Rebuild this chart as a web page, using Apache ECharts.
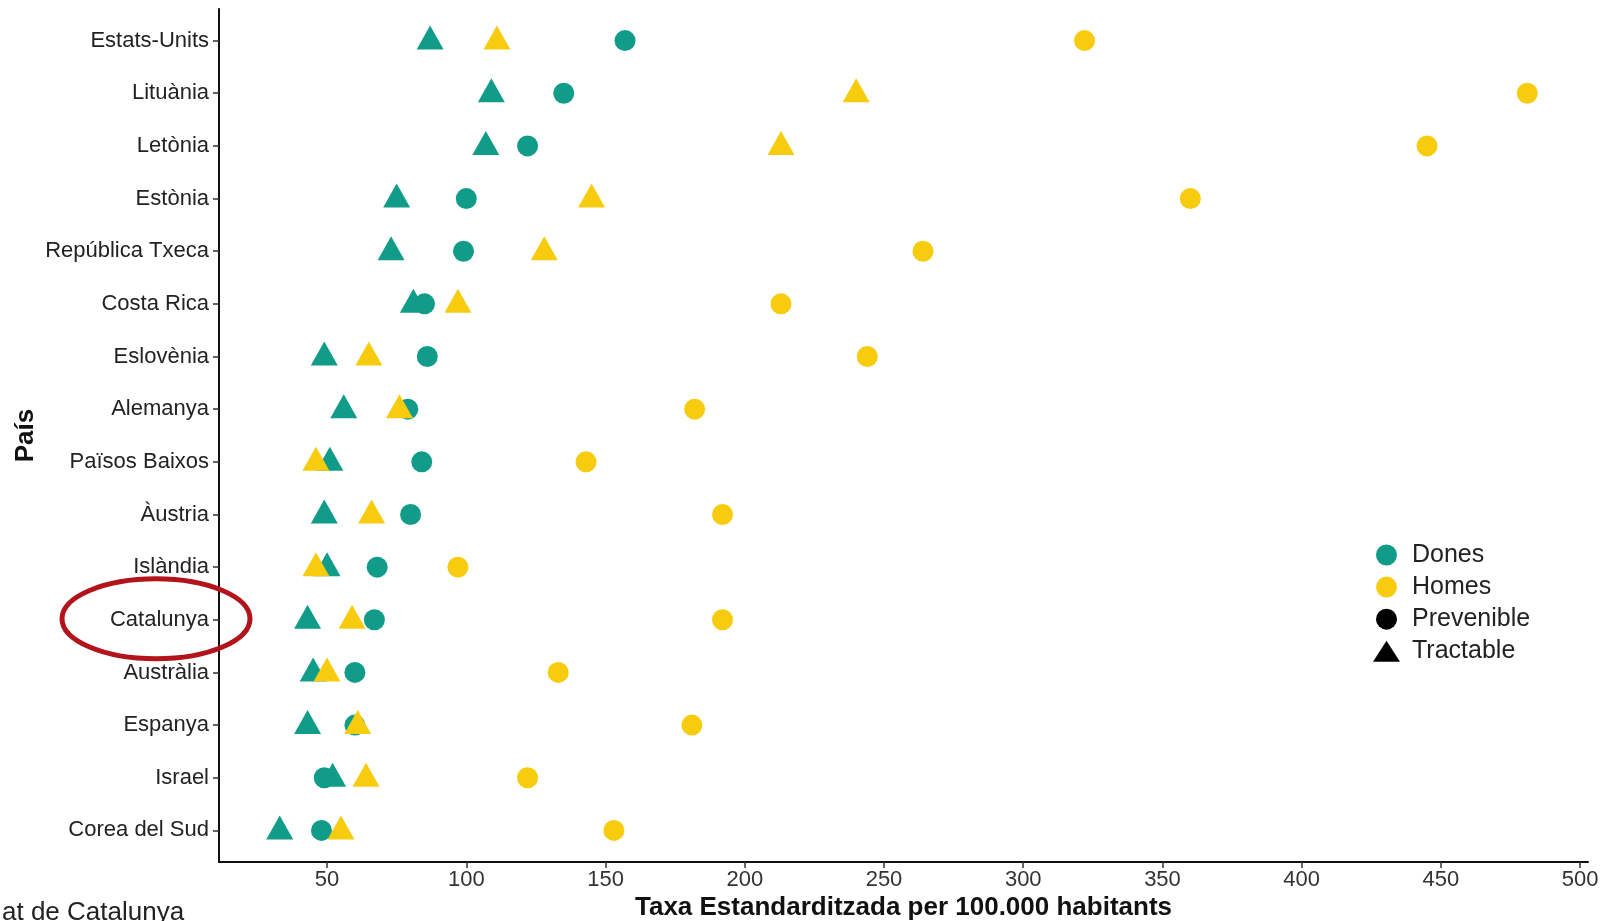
<!DOCTYPE html>
<html>
<head>
<meta charset="utf-8">
<script src="https://cdn.jsdelivr.net/npm/echarts@6/dist/echarts.min.js"></script>
<style>
html,body{margin:0;padding:0;background:#fff;}
#chart{width:1605px;height:921px;}
</style>
</head>
<body>
<div id="chart"></div>
<script>
// ---- data ----
var countries = ['Estats-Units','Lituània','Letònia','Estònia','República Txeca','Costa Rica','Eslovènia','Alemanya','Països Baixos','Àustria','Islàndia','Catalunya','Austràlia','Espanya','Israel','Corea del Sud'];
var donesPrevenible = [157, 135, 122, 100, 99, 85, 86, 79, 84, 80, 68, 67, 60, 60, 49, 48];
var donesTractable  = [87, 109, 107, 75, 73, 81, 49, 56, 51, 49, 50, 43, 45, 43, 52, 33];
var homesPrevenible = [322, 481, 445, 360, 264, 213, 244, 182, 143, 192, 97, 192, 133, 181, 122, 153];
var homesTractable  = [111, 240, 213, 145, 128, 97, 65, 76, 46, 66, 46, 59, 50, 61, 64, 55];
var xTicks = [50, 100, 150, 200, 250, 300, 350, 400, 450, 500];
var legendNames = ['Dones', 'Homes', 'Prevenible', 'Tractable'];
var highlighted = 'Catalunya';

var TEAL = '#119c8a', YELLOW = '#f7cc0e';
var font = '"Liberation Sans", Arial, sans-serif';

function pts(arr){ return arr.map(function(v,i){ return [v, i]; }); }
var idx = countries.map(function(c,i){ return i; });
var circleSize = 21, triSize = [27, 24];

var chart = echarts.init(document.getElementById('chart'), null, {renderer:'canvas'});
var option = {
  backgroundColor: '#fff',
  animation: false,
  grid: {left: 219, right: 17, top: 9, bottom: 59, containLabel: false, outerBoundsMode: 'none'},
  xAxis: {
    type: 'value', min: 11.2, max: 502.8,
    splitLine: {show: false},
    axisLine: {show: true, onZero: false, lineStyle: {color: '#111', width: 2}},
    axisTick: {show: true, customValues: xTicks, length: 6, lineStyle: {color: '#333', width: 1.5}},
    axisLabel: {customValues: xTicks, fontSize: 22, color: '#333', margin: 7, fontFamily: font},
    name: 'Taxa Estandarditzada per 100.000 habitants',
    nameLocation: 'middle', nameGap: 33, nameMoveOverlap: false,
    nameTextStyle: {fontSize: 26, fontWeight: 'bold', color: '#111', fontFamily: font}
  },
  yAxis: {
    type: 'value', inverse: true, min: -0.6, max: 15.6,
    splitLine: {show: false},
    axisLine: {show: true, onZero: false, lineStyle: {color: '#111', width: 2}},
    axisTick: {show: true, customValues: idx, length: 6, lineStyle: {color: '#333', width: 1.5}},
    axisLabel: {customValues: idx, fontSize: 22, color: '#222', margin: 10, fontFamily: font,
      formatter: function(v){ return countries[Math.round(v)] || ''; }},
    name: 'País', nameLocation: 'middle', nameRotate: 90, nameGap: 180, nameMoveOverlap: false,
    nameTextStyle: {fontSize: 26, fontWeight: 'bold', color: '#111', fontFamily: font}
  },
  legend: {
    orient: 'vertical', left: 1368, top: 537.5,
    itemWidth: 27, itemHeight: 21, itemGap: 7.1,
    textStyle: {fontSize: 25, lineHeight: 25, color: '#222', fontFamily: font, padding: [0,0,0,7]},
    data: [
      {name: 'Dones', icon: 'circle'},
      {name: 'Homes', icon: 'circle'},
      {name: 'Prevenible', icon: 'circle'},
      {name: 'Tractable', icon: 'triangle'}
    ],
    selectedMode: false
  },
  series: [
    {name: 'Dones', type: 'scatter', data: [], itemStyle: {color: TEAL, opacity: 1}, symbol: 'circle'},
    {name: 'Homes', type: 'scatter', data: [], itemStyle: {color: YELLOW, opacity: 1}, symbol: 'circle'},
    {name: 'Prevenible', type: 'scatter', data: [], itemStyle: {color: '#000', opacity: 1}, symbol: 'circle'},
    {name: 'Tractable', type: 'scatter', data: [], itemStyle: {color: '#000', opacity: 1}, symbol: 'triangle'},
    {name: 'Dones Tractable', type: 'scatter', data: pts(donesTractable), symbol: 'triangle', symbolSize: triSize, symbolOffset: [0, -3], itemStyle: {color: TEAL, opacity: 1}, z: 2},
    {name: 'Dones Prevenible', type: 'scatter', data: pts(donesPrevenible), symbol: 'circle', symbolSize: circleSize, itemStyle: {color: TEAL, opacity: 1}, z: 3},
    {name: 'Homes Tractable', type: 'scatter', data: pts(homesTractable), symbol: 'triangle', symbolSize: triSize, symbolOffset: [0, -3], itemStyle: {color: YELLOW, opacity: 1}, z: 4},
    {name: 'Homes Prevenible', type: 'scatter', data: pts(homesPrevenible), symbol: 'circle', symbolSize: circleSize, itemStyle: {color: YELLOW, opacity: 1}, z: 5}
  ]
};
chart.setOption(option);

var cy = chart.convertToPixel({yAxisIndex: 0}, countries.indexOf(highlighted));
chart.setOption({
  graphic: [
    {type: 'ellipse', shape: {cx: 156, cy: cy - 1, rx: 94, ry: 40}, style: {fill: 'none', stroke: '#b3141c', lineWidth: 5}, z: 10},
    {type: 'text', left: 2, top: 900, style: {text: 'at de Catalunya', font: '26px ' + font, fill: '#222'}, z: 10}
  ]
});
</script>
</body>
</html>
